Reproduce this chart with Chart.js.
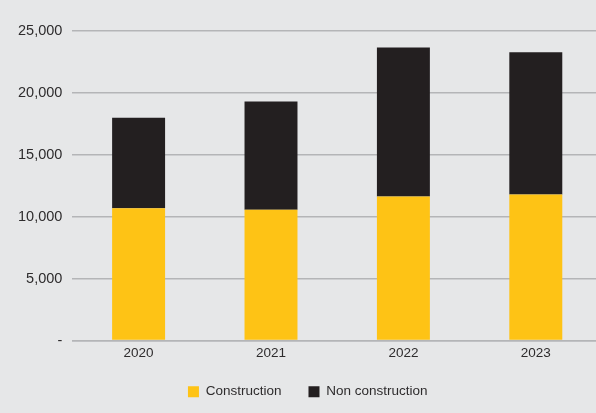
<!DOCTYPE html>
<html>
<head>
<meta charset="utf-8">
<script src="https://cdn.jsdelivr.net/npm/chart.js@4"></script>
<style>
  html, body { margin: 0; padding: 0; background: #e6e7e8; overflow: hidden; }
  #wrap { position: absolute; left: 0; top: 0; width: 602px; height: 413px; }
</style>
</head>
<body>
<div id="wrap"><canvas id="volumeChart" width="602" height="413"></canvas></div>
<script>
// Years on the x axis
const years = ["2020", "2021", "2022", "2023"];

// Volumes per year, stacked
const construction = [10680, 10550, 11620, 11780];
const nonConstruction = [7290, 8730, 12030, 11490];

// Y axis tick labels, one per 5,000 step
const yTickLabels = ["-", "5,000", "10,000", "15,000", "20,000", "25,000"];

const gridGray = "#b4b5b7";
const textColor = "#2e2c2d";

const volumeChart = new Chart(document.getElementById("volumeChart"), {
  type: "bar",
  data: {
    labels: years,
    datasets: [
      {
        label: "Construction",
        data: construction,
        backgroundColor: "#fec315",
        borderWidth: 0,
        categoryPercentage: 1,
        barPercentage: 0.4,
      },
      {
        label: "Non construction",
        data: nonConstruction,
        backgroundColor: "#231f20",
        borderWidth: 0,
        categoryPercentage: 1,
        barPercentage: 0.4,
      },
    ],
  },
  options: {
    responsive: false,
    animation: false,
    devicePixelRatio: 1,
    layout: {
      padding: { top: 30.7, left: 13.5, right: 0, bottom: 4.5 },
    },
    plugins: {
      legend: {
        display: true,
        position: "bottom",
        labels: {
          boxWidth: 11,
          boxHeight: 11,
          padding: 27,
          color: textColor,
          font: { family: "'Liberation Sans', Arial, sans-serif", size: 13.5 },
        },
      },
      tooltip: { enabled: false },
    },
    scales: {
      x: {
        stacked: true,
        afterFit: (scale) => {
          scale.height = 17.5;
        },
        grid: { display: false, drawTicks: false },
        border: { display: true, color: gridGray, width: 1.5 },
        ticks: {
          padding: 6.5,
          color: textColor,
          font: { family: "'Liberation Sans', Arial, sans-serif", size: 13.5, lineHeight: 1 },
        },
      },
      y: {
        stacked: true,
        min: 0,
        max: 25000,
        afterFit: (scale) => {
          scale.width = 58.9; // keep the plot starting at the same spot
        },
        grid: { color: gridGray, lineWidth: 1.5, drawTicks: false },
        border: { display: false },
        ticks: {
          stepSize: 5000,
          padding: 10,
          color: textColor,
          font: { family: "'Liberation Sans', Arial, sans-serif", size: 14.5 },
          callback: (value) => yTickLabels[Math.round(value / 5000)],
        },
      },
    },
  },
});
</script>
</body>
</html>
